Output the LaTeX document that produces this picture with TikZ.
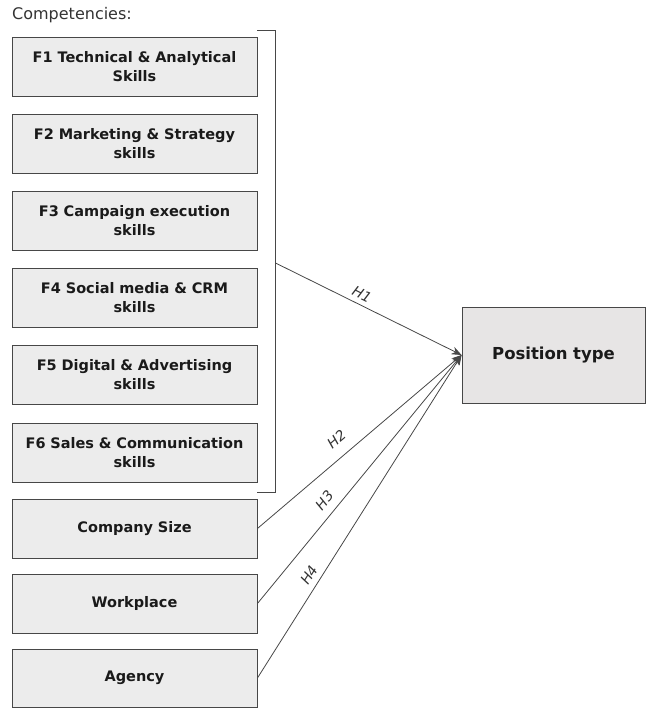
\documentclass[tikz,border=0pt]{standalone}
\usepackage{fontspec}
\setmainfont{DejaVu Sans}
\usetikzlibrary{arrows.meta}
\definecolor{boxfill}{HTML}{ECECEC}
\definecolor{posfill}{HTML}{E7E5E5}
\definecolor{boxline}{HTML}{474747}
\definecolor{txt}{HTML}{1A1A1A}
\definecolor{lbl}{HTML}{333333}
\begin{document}
\begin{tikzpicture}[x=1pt,y=-1pt,
  fbox/.style={draw=boxline,line width=0.9pt,fill=boxfill,minimum width=245pt,minimum height=59pt,
    text width=240pt,align=center,font=\fontsize{14.5}{19}\selectfont\bfseries,text=txt,inner sep=0pt},
  posbox/.style={fbox,fill=posfill,minimum width=183pt,minimum height=96pt,text width=178pt,
    font=\fontsize{16.5}{19}\selectfont\bfseries},
  link/.style={draw=boxline,line width=0.8pt,-{Stealth[length=10pt,width=8pt]}},
  hlab/.style={font=\fontsize{14}{16}\selectfont\itshape,text=lbl,sloped,inner sep=1pt}]
\useasboundingbox (0,0) rectangle (646,708);
\node[anchor=west,font=\fontsize{16}{18}\selectfont,text=lbl,inner sep=0pt] (comp) at (12,15) {Competencies:};
\node[fbox] (f1) at (134.5,66.5) {F1 Technical \& Analytical\\Skills};
\node[fbox] (f2) at (134.5,143.5) {F2 Marketing \& Strategy\\skills};
\node[fbox] (f3) at (134.5,220.5) {F3 Campaign execution\\skills};
\node[fbox] (f4) at (134.5,297.5) {F4 Social media \& CRM\\skills};
\node[fbox] (f5) at (134.5,374.5) {F5 Digital \& Advertising\\skills};
\node[fbox] (f6) at (134.5,452.5) {F6 Sales \& Communication\\skills};
\node[fbox] (cs) at (134.5,528.5) {Company Size};
\node[fbox] (wp) at (134.5,603.5) {Workplace};
\node[fbox,minimum height=58pt] (ag) at (134.5,678) {Agency};
\node[posbox] (pt) at (553.5,355) {Position type};
\coordinate (bt) at (257,30);
\coordinate (bb) at (257,492);
\coordinate (bm) at (275.5,263);
\draw[boxline,line width=0.9pt] (bt) -- (275.5,30) -- (275.5,492) -- (bb);
\draw[link] (bm) -- node[hlab,pos=0.44,above=4pt] {H1} (pt.west);
\draw[link] (cs.east) -- node[hlab,pos=0.44,above=10pt] {H2} (pt.west);
\draw[link] (wp.east) -- node[hlab,pos=0.38,above=7pt] {H3} (pt.west);
\draw[link] (ag.east) -- node[hlab,pos=0.30,above=5pt] {H4} (pt.west);
\end{tikzpicture}
\end{document}
